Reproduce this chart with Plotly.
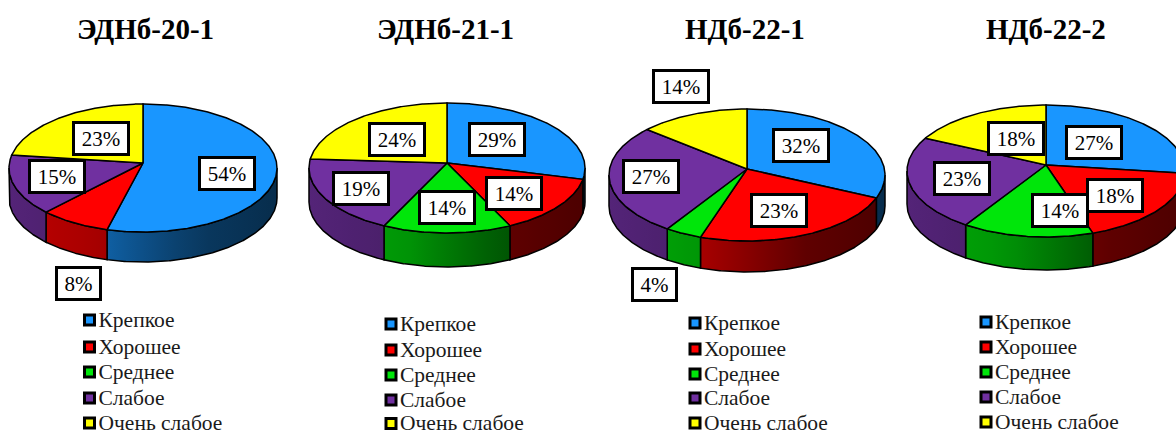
import numpy as np
import plotly.graph_objects as go

W, H = 1176, 434
titles = ["ЭДНб-20-1", "ЭДНб-21-1", "НДб-22-1", "НДб-22-2"]
categories = ["Крепкое", "Хорошее", "Среднее", "Слабое", "Очень слабое"]
vals_a = [54, 8, 0, 15, 23]
vals_b = [29, 14, 14, 19, 24]
vals_c = [32, 23, 4, 27, 14]
vals_d = [27, 18, 14, 23, 18]
series = [vals_a, vals_b, vals_c, vals_d]
colors = ["#1996FF", "#FF0000", "#00E60A", "#7030A0", "#FFFF00"]

# layout of each pie in pixels: centre x, ellipse centre y, rx, ry, depth, apex y
geom = [(143, 168, 134, 64, 30, 163),
        (447, 168, 138, 65, 34, 163),
        (747, 175, 138, 66, 31, 169),
        (1046, 171, 139, 66, 33, 165)]
title_x = [145, 445, 745, 1046]
title_y = 29
label_pos = [
    [(227, 174), (78, 283), None, (57, 177), (101, 138)],
    [(497, 140), (514, 193), (447, 208), (361, 188), (397, 140)],
    [(801, 145), (779, 211), (654, 284), (651, 177), (681, 87)],
    [(1094, 142), (1115, 195), (1060, 210), (962, 178), (1016, 138)],
]
legend_x = [89.5, 391, 695, 986]
legend_y = [[320, 347, 372, 398, 423],
            [324, 350, 375, 400, 423.5],
            [323, 349, 374, 398, 423],
            [322, 347, 372, 397, 422]]


def shade(x):
    return np.interp(x, [-1, -0.3, 0.4, 1], [0.75, 0.65, 0.38, 0.3])


def rgb(hexc, k):
    c = [int(hexc[i:i + 2], 16) for i in (1, 3, 5)]
    return "rgb(%d,%d,%d)" % tuple(int(v * k) for v in c)


def arc(a, b, k):
    # rim of a tilted disc seen in perspective, k is the apex shift on the ellipse
    n = max(3, int(abs(b - a) * 2))
    t = np.radians(np.linspace(a, b, n))
    q = 1 + k * np.cos(t)
    return np.sin(t) / q * np.sqrt(1 - k * k), (np.cos(t) / q) * (1 - k * k) + k


fig = go.Figure()
layout = dict(width=W, height=H, margin=dict(l=0, r=0, t=0, b=0), showlegend=False,
              paper_bgcolor="white", plot_bgcolor="rgba(0,0,0,0)")
pad = 3
annotations = []
for i, vals in enumerate(series):
    cx, cy, rx, ry, depth, apex = geom[i]
    d = depth / ry
    k = (cy - apex) / ry
    left, right = cx - rx - pad, min(W, cx + rx + pad)
    top, bottom = cy - ry - pad, cy + ry + depth + pad
    sfx = str(i + 1)
    layout["xaxis" + sfx] = dict(domain=[left / W, right / W], visible=False,
                                 range=[(left - cx) / rx, (right - cx) / rx], fixedrange=True,
                                 anchor="y" + sfx)
    layout["yaxis" + sfx] = dict(domain=[1 - bottom / H, 1 - top / H], visible=False,
                                 range=[(cy - bottom) / ry, (cy - top) / ry], fixedrange=True,
                                 anchor="x" + sfx)
    xa, ya = "x" + sfx, "y" + sfx
    edges = np.cumsum([0] + vals) / sum(vals) * 360
    side = np.degrees(np.arcsin(k))
    # side walls
    for j, col in enumerate(colors):
        a, b = max(edges[j], 90 + side), min(edges[j + 1], 270 - side)
        if b <= a or vals[j] == 0:
            continue
        x, y = arc(a, b, k)
        px = np.r_[x, x[::-1], x[0]]
        py = np.r_[y, y[::-1] - d, y[0]]
        lo, hi = px.min(), px.max()
        stops = [[s, rgb(col, shade(lo + s * (hi - lo)))] for s in np.linspace(0, 1, 6)]
        fig.add_trace(go.Scatter(x=px, y=py, xaxis=xa, yaxis=ya, mode="lines", fill="toself",
                                 fillgradient=dict(type="horizontal", colorscale=stops),
                                 line=dict(color="black", width=1.5), hoverinfo="skip"))
    # top faces
    for j, col in enumerate(colors):
        if vals[j] == 0:
            continue
        x, y = arc(edges[j], edges[j + 1], k)
        fig.add_trace(go.Scatter(x=np.r_[0, x, 0], y=np.r_[k, y, k], xaxis=xa, yaxis=ya,
                                 mode="lines", fill="toself", fillcolor=col,
                                 line=dict(color="black", width=1.5), hoverinfo="skip"))
    # value labels
    for j, v in enumerate(vals):
        if label_pos[i][j] is None:
            continue
        lx, ly = label_pos[i][j]
        annotations.append(dict(text=f"{v}%", x=lx / W, y=1 - ly / H, xref="paper", yref="paper",
                                xanchor="center", yanchor="middle",
                                showarrow=False, bgcolor="white", bordercolor="black", borderwidth=3,
                                width=(41 if v < 10 else 52), height=29, borderpad=0,
                                font=dict(family="Liberation Serif", size=21, color="black")))
    annotations.append(dict(text=f"<b>{titles[i]}</b>", x=title_x[i] / W, y=1 - title_y / H,
                            xref="paper", yref="paper", showarrow=False,
                            xanchor="center", yanchor="middle",
                            font=dict(family="Liberation Serif", size=29, color="black")))
    # legend column on a page-wide overlay axis
    fig.add_trace(go.Scatter(x=[legend_x[i]] * 5, y=legend_y[i], xaxis="x5", yaxis="y5", mode="markers",
                             marker=dict(symbol="square", size=10, color=colors,
                                         line=dict(color="black", width=3)),
                             cliponaxis=False, hoverinfo="skip"))
    fig.add_trace(go.Scatter(x=[legend_x[i] + 9] * 5, y=[v + 1.5 for v in legend_y[i]],
                             xaxis="x5", yaxis="y5", mode="text",
                             text=categories, textposition="middle right",
                             textfont=dict(family="Liberation Serif", size=21.5, color="#1a1a1a"),
                             cliponaxis=False, hoverinfo="skip"))

layout["xaxis5"] = dict(domain=[0, 1], range=[0, W], visible=False, fixedrange=True, anchor="y5")
layout["yaxis5"] = dict(domain=[0, 1], range=[H, 0], visible=False, fixedrange=True, anchor="x5")
layout["annotations"] = annotations
fig.update_layout(**layout)
fig.write_html("out.html", config=dict(displayModeBar=False),
               post_script="document.body.style.margin='0';document.documentElement.style.overflow='hidden';")
